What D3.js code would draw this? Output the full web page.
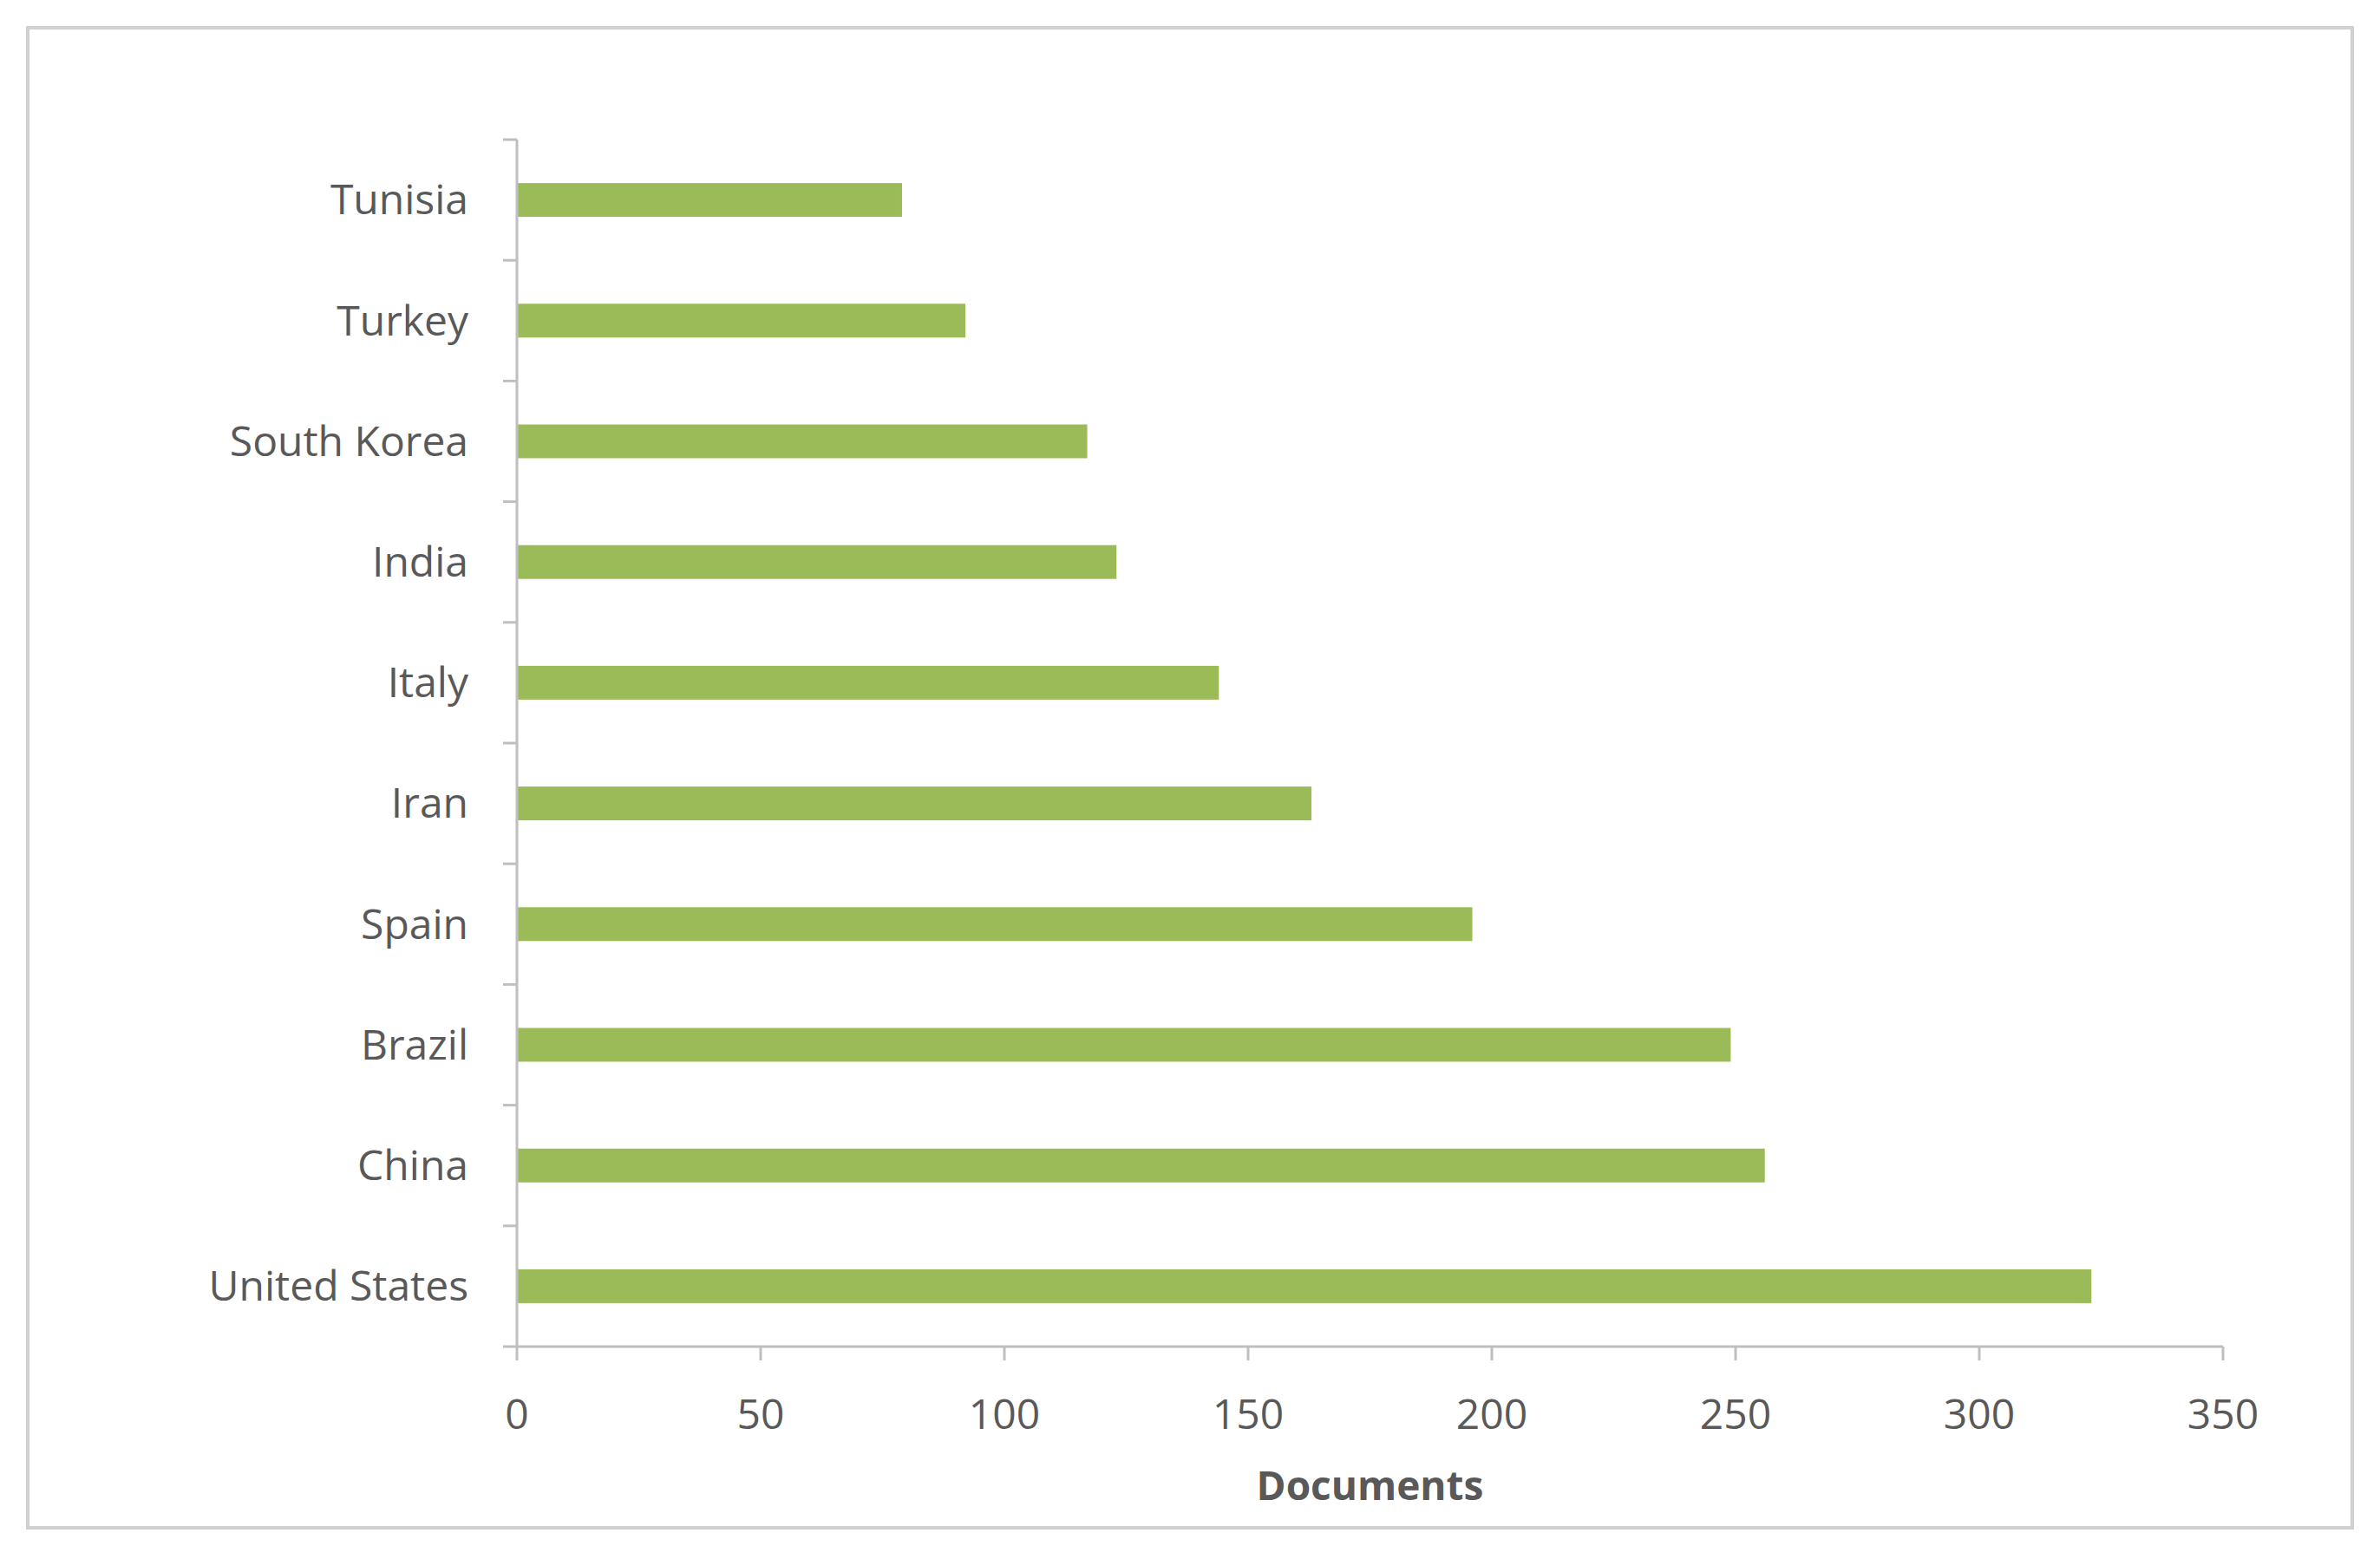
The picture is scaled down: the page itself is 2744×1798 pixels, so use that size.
<!DOCTYPE html>
<html><head><meta charset="utf-8">
<script src="https://cdn.jsdelivr.net/npm/d3@7"></script>
<style>body{margin:0;background:#fff}svg{display:block}</style>
</head><body>
<script>
const countries = ['United States','China','Brazil','Spain','Iran','Italy','India','South Korea','Turkey','Tunisia'];
const documents = [323, 256, 249, 196, 163, 144, 123, 117, 92, 79];
const xTicks = [0,50,100,150,200,250,300,350];

const W = 2744, H = 1798;
const svg = d3.select('body').append('svg').attr('width', W).attr('height', H);
svg.append('rect').attr('x', 32).attr('y', 32).attr('width', 2680).attr('height', 1730)
  .attr('fill', '#fff').attr('stroke', '#d0d0d0').attr('stroke-width', 4);

const x = d3.scaleLinear().domain([0, 350]).range([596, 2563]);
const y = d3.scaleBand().domain(countries).range([1553, 161]).paddingInner(0.72).paddingOuter(0.36);
const font = "'Open Sans', 'DejaVu Sans', sans-serif";

svg.selectAll('rect.bar').data(countries).join('rect').attr('class', 'bar')
  .attr('x', x(0)).attr('y', d => y(d))
  .attr('width', (d, i) => x(documents[i]) - x(0)).attr('height', y.bandwidth())
  .attr('fill', '#9BBB59');

// axes
const grey = '#BFBFBF';
svg.append('line').attr('x1', x(0)).attr('x2', x(0)).attr('y1', 161).attr('y2', 1553).attr('stroke', grey).attr('stroke-width', 3);
svg.append('line').attr('x1', x(0)).attr('x2', x(350)).attr('y1', 1553).attr('y2', 1553).attr('stroke', grey).attr('stroke-width', 3);
const step = y.step();
d3.range(11).forEach(i => {
  const yy = 1553 - i * (1553 - 161) / 10;
  svg.append('line').attr('x1', x(0) - 16).attr('x2', x(0)).attr('y1', yy).attr('y2', yy).attr('stroke', grey).attr('stroke-width', 3);
});
svg.selectAll('line.xt').data(xTicks).join('line').attr('class', 'xt')
  .attr('x1', d => x(d)).attr('x2', d => x(d)).attr('y1', 1553).attr('y2', 1569)
  .attr('stroke', grey).attr('stroke-width', 3);
svg.selectAll('text.xl').data(xTicks).join('text').attr('class', 'xl')
  .attr('x', d => x(d)).attr('y', 1648).attr('text-anchor', 'middle')
  .attr('font-family', font).attr('font-size', 48).attr('fill', '#595959').text(d => d);
svg.selectAll('text.yl').data(countries).join('text').attr('class', 'yl')
  .attr('x', 540).attr('y', d => y(d) + y.bandwidth() / 2).attr('dy', '0.35em')
  .attr('text-anchor', 'end').attr('font-family', font).attr('font-size', 48)
  .attr('fill', '#595959').text(d => d);
svg.append('text').attr('x', (x(0) + x(350)) / 2).attr('y', 1730).attr('text-anchor', 'middle')
  .attr('font-family', font).attr('font-size', 46).attr('font-weight', 'bold')
  .attr('fill', '#595959').text('Documents');
</script>
</body></html>
